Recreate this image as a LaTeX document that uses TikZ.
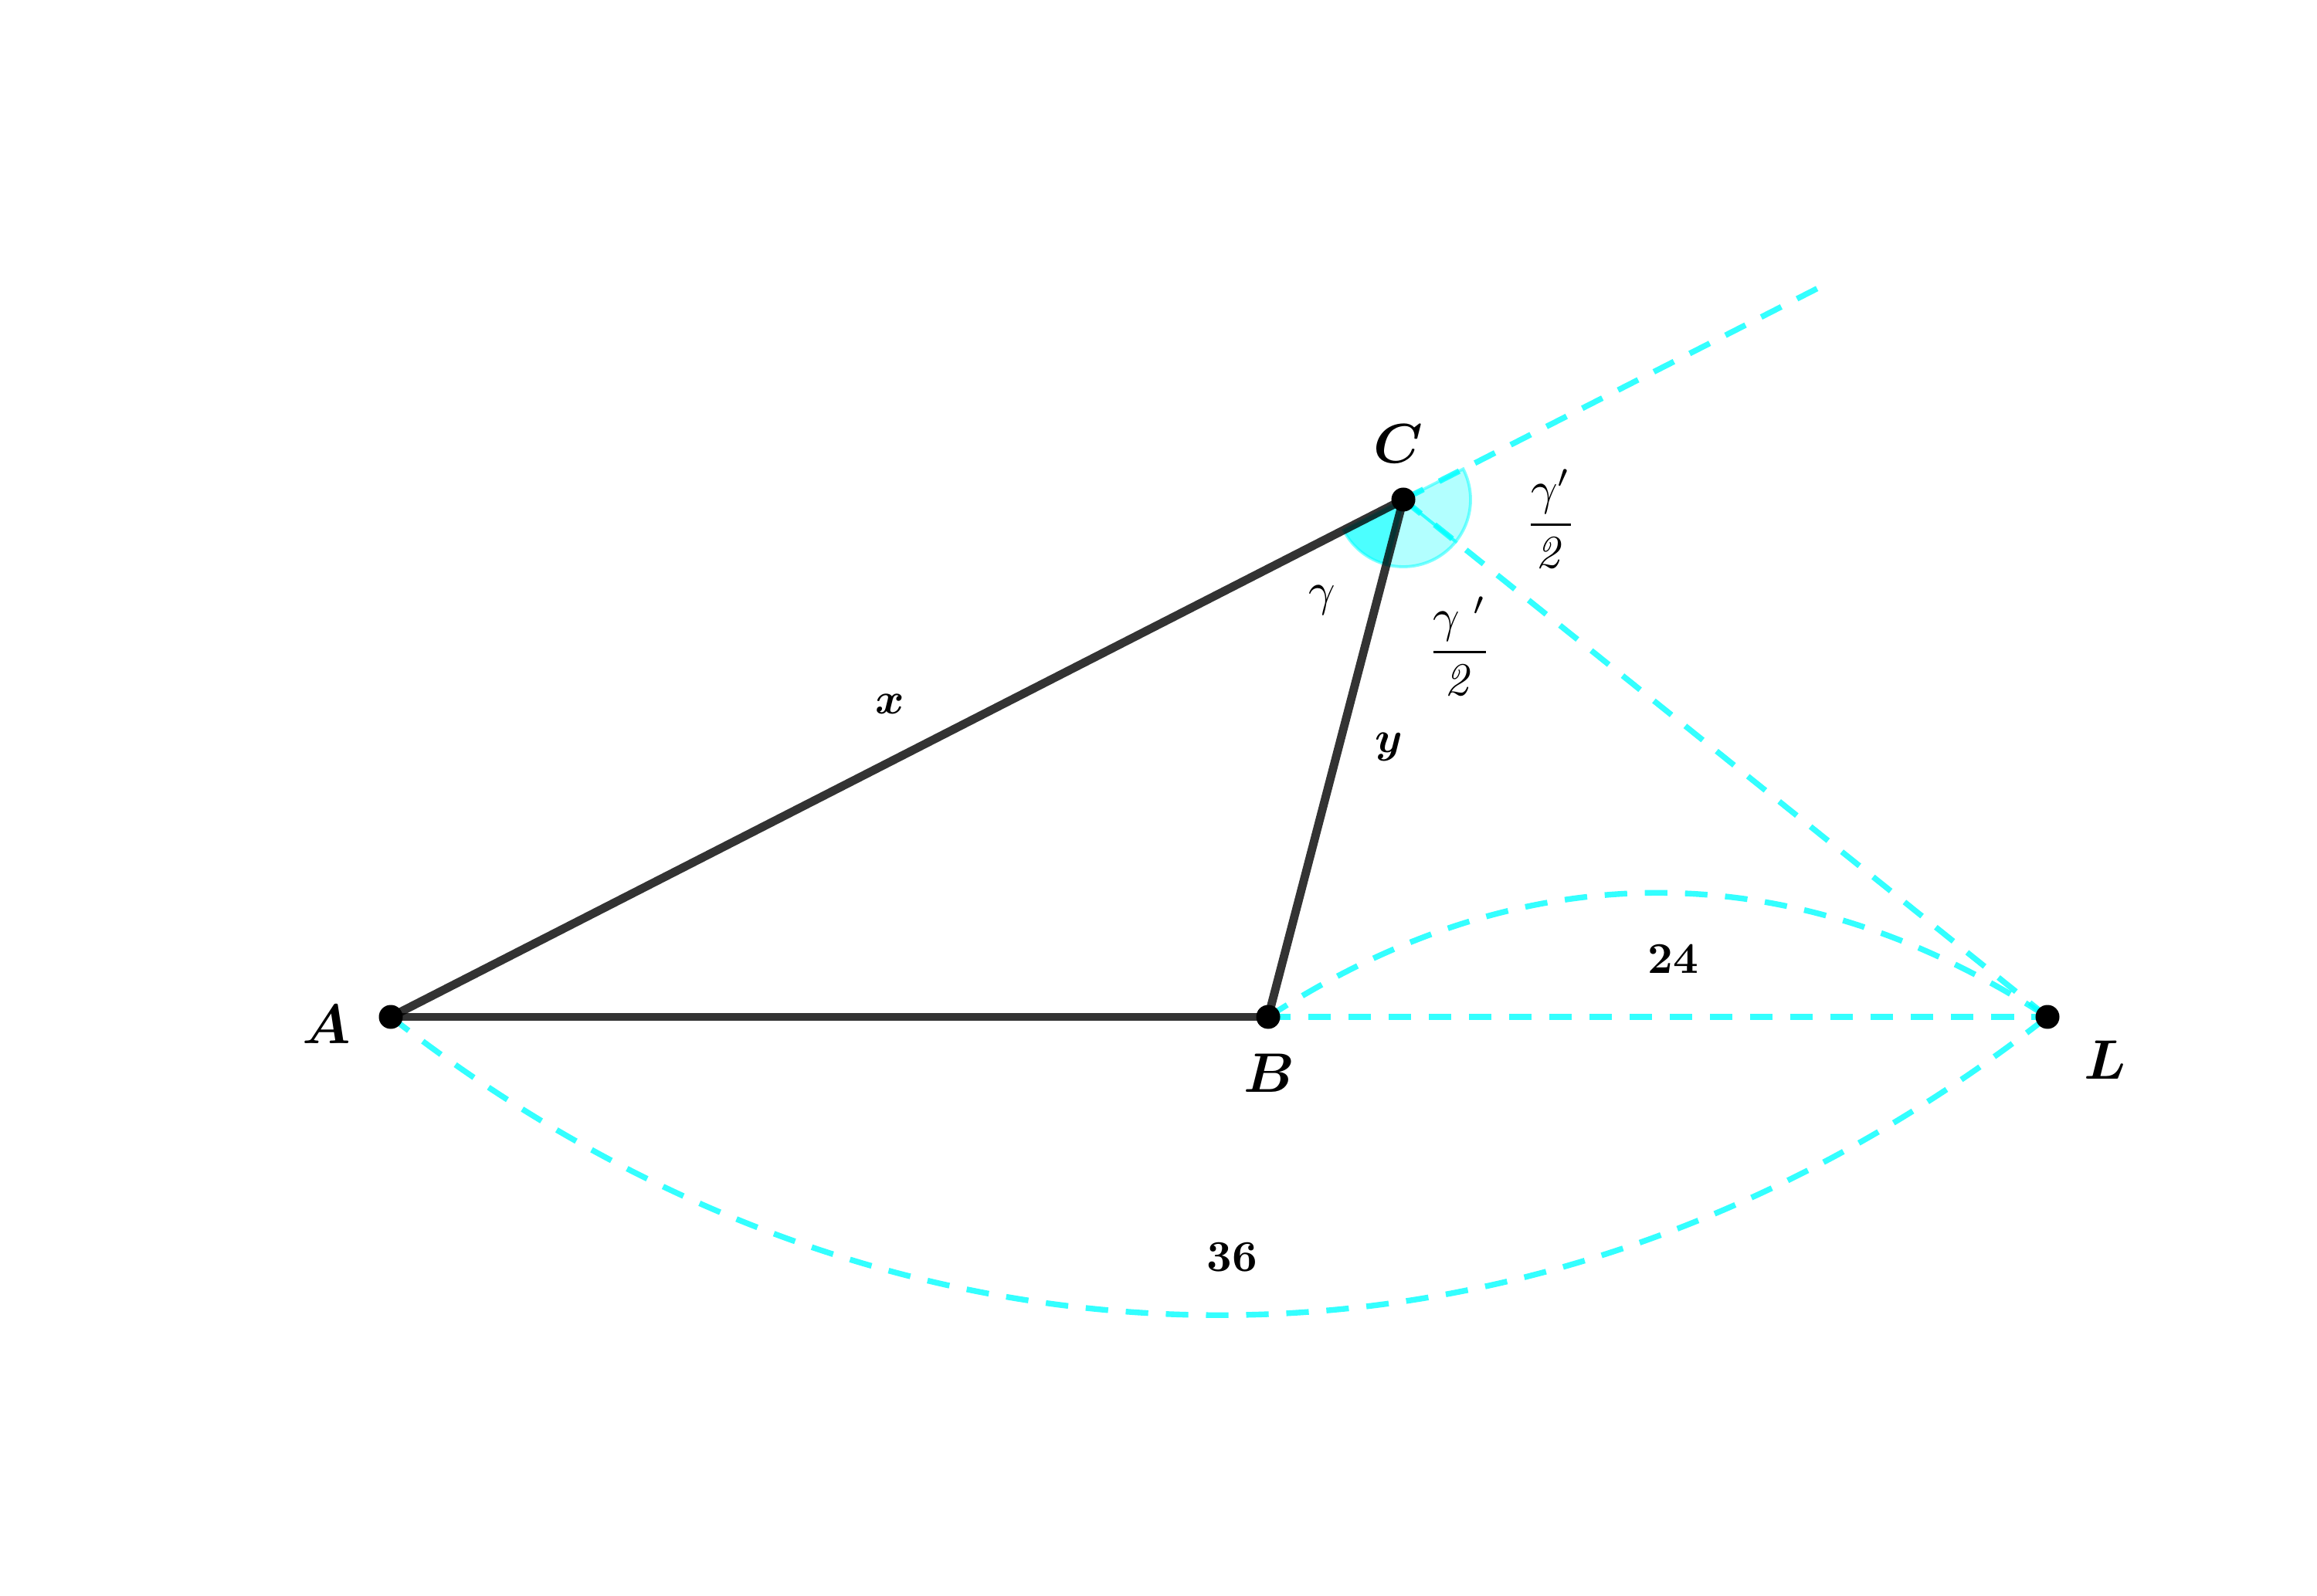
\documentclass[tikz,border=0pt]{standalone}
\usepackage{amsmath}
\usepackage{bm}
\definecolor{aqua}{RGB}{0,255,255}
\begin{document}
\begin{tikzpicture}[
  seg/.style={draw=black, draw opacity=0.8, line width=3.1pt},
  aux/.style={draw=aqua, draw opacity=0.8, line width=2.1pt, dash pattern=on 8.3pt off 6.5pt},
  dot/.style={circle, fill=black, inner sep=0pt, minimum size=0.31cm},
  sectorhalf/.style={fill=aqua, fill opacity=0.3, draw=aqua, draw opacity=0.5, line width=1.1pt},
  sectorin/.style={fill=aqua, fill opacity=0.7, draw=aqua, draw opacity=0.5, line width=1.1pt},
  biglab/.style={transform shape, scale=2.05, inner sep=0pt},
  smalllab/.style={transform shape, scale=1.62, inner sep=0pt},
  greeklab/.style={transform shape, scale=1.72, inner sep=0pt}
]
\useasboundingbox[fill=white] (0,0) rectangle (30,20.66);
\coordinate (A) at (5.06,7.49);
\coordinate (B) at (16.42,7.49);
\coordinate (C) at (18.17,14.19);
\coordinate (L) at (26.51,7.49);
\coordinate (E) at (23.60,16.96);

% auxiliary dashed lines
\draw[aux] (C) -- (E);
\draw[aux] (C) -- (L);
\draw[aux] (B) -- (L);
\draw[aux] (B) to[bend left=33] (L);
\draw[aux] (A) to[bend right=38] (L);

% angle sectors at C
\path[sectorhalf] (C) -- ++(27.07:0.87) arc[start angle=27.07, end angle=-38.78, radius=0.87] -- cycle;
\path[sectorhalf] (C) -- ++(-38.78:0.87) arc[start angle=-38.78, end angle=-104.64, radius=0.87] -- cycle;
\path[sectorin] (C) -- ++(207.07:0.87) arc[start angle=207.07, end angle=255.36, radius=0.87] -- cycle;

% triangle
\draw[seg] (A) -- (B);
\draw[seg] (B) -- (C);
\draw[seg] (C) -- (A);

% points
\node[dot] (pA) at (A) {};
\node[dot] (pB) at (B) {};
\node[dot] (pC) at (C) {};
\node[dot] (pL) at (L) {};

% labels
\node[biglab] (lA) at (4.23,7.39) {$\bm{A}$};
\node[biglab] (lB) at (16.43,6.76) {$\bm{B}$};
\node[biglab] (lC) at (18.10,14.91) {$\bm{C}$};
\node[biglab] (lL) at (27.26,6.93) {$\bm{L}$};
\node[smalllab] (lx) at (11.52,11.54) {$\bm{x}$};
\node[smalllab] (ly) at (17.98,10.99) {$\bm{y}$};
\node[greeklab] (lg) at (17.12,12.89) {$\gamma$};
\node[greeklab] (lf1) at (20.08,13.94) {$\dfrac{\gamma'}{\mathit{2}}$};
\node[greeklab] (lf2) at (18.90,12.29) {$\dfrac{\gamma\;{}'}{\mathit{2}}$};
\node[smalllab] (l24) at (21.66,8.24) {\textbf{24}};
\node[smalllab] (l36) at (15.95,4.38) {\textbf{36}};
\end{tikzpicture}
\end{document}
